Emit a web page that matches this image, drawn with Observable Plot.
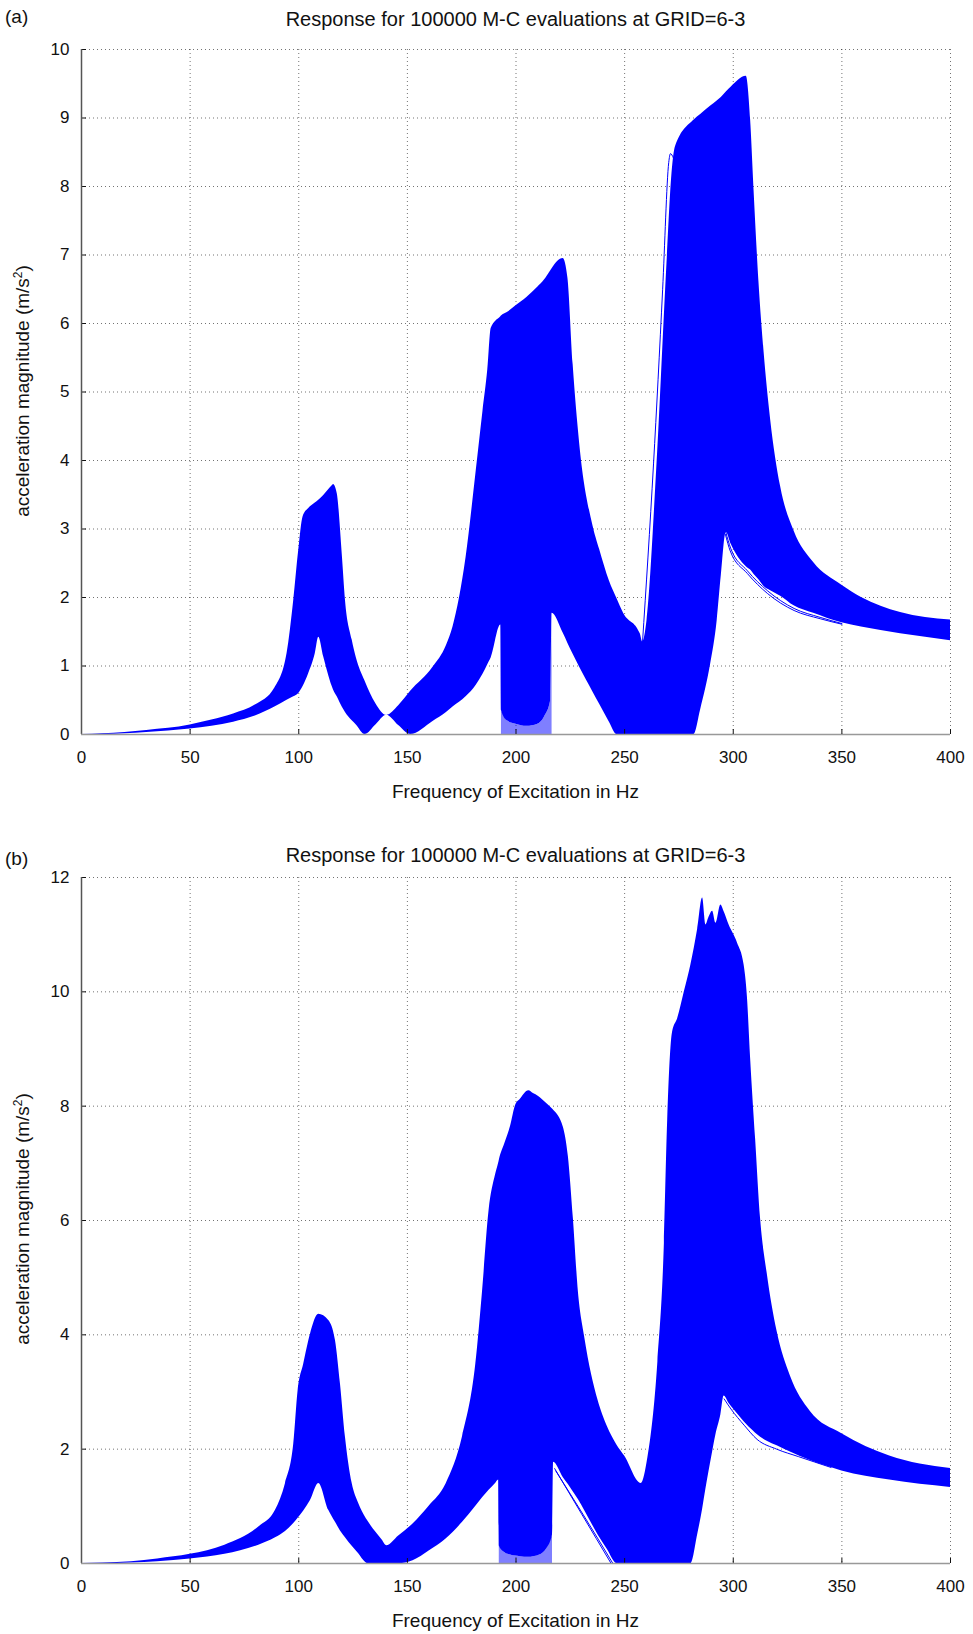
<!DOCTYPE html>
<html><head><meta charset="utf-8">
<script src="https://cdn.jsdelivr.net/npm/d3@7"></script>
<script src="https://cdn.jsdelivr.net/npm/@observablehq/plot@0.6"></script>
<style>
body{margin:0;background:#fff;width:973px;height:1634px;position:relative;overflow:hidden;font-family:"Liberation Sans",Arial,sans-serif;color:#111;}
.lbl{position:absolute;font-size:19px;line-height:22px;}
.title{position:absolute;left:81px;width:869px;text-align:center;font-size:20px;line-height:24px;}
.xl{position:absolute;left:81px;width:869px;text-align:center;font-size:19px;line-height:22px;}
.yl{position:absolute;width:400px;text-align:center;font-size:19px;line-height:22px;transform:rotate(-90deg);}
.yl sup{font-size:12px;line-height:0;}
.panel{position:absolute;left:0;}
</style></head><body>
<div class="lbl" style="left:5px;top:6px">(a)</div>
<div class="title" style="top:7px">Response for 100000 M-C evaluations at GRID=6-3</div>
<div class="panel" id="pa" style="top:30px"></div>
<div class="xl" style="top:781px">Frequency of Excitation in Hz</div>
<div class="yl" style="left:-177px;top:380px">acceleration magnitude (m/s<sup>2</sup>)</div>

<div class="lbl" style="left:5px;top:848px">(b)</div>
<div class="title" style="top:843px">Response for 100000 M-C evaluations at GRID=6-3</div>
<div class="panel" id="pb" style="top:860px"></div>
<div class="xl" style="top:1610px">Frequency of Excitation in Hz</div>
<div class="yl" style="left:-177px;top:1208px">acceleration magnitude (m/s<sup>2</sup>)</div>
<script>
// ---------- shared ticks ----------
const xTicks = [0, 50, 100, 150, 200, 250, 300, 350, 400];
const yTicksA = [0, 1, 2, 3, 4, 5, 6, 7, 8, 9, 10];
const yTicksB = [0, 2, 4, 6, 8, 10, 12];

// ---------- panel (a): envelope of the Monte-Carlo responses ----------
const freqA = [0,10,20,30,40,50,60,70,80,89,94.6,97.7,100,102,104.6,107.6,109.2,111.5,115.4,116,117.7,120,121.5,124.6,126.5,130.5,135.5,140.5,146,151.5,161.8,168,171,177,181.7,184.8,187,188.6,193,193.3,196,200,205,210,213,216,216.6,221.7,223.9,226.3,229.3,235.4,238.5,243,246.5,249.5,257.2,258.3,260.3,264.9,269.5,271.8,273.4,282,285,289.5,292.6,294.5,296.8,299,306,308,309.5,311.8,314.2,317.2,321.8,328,337,350,359,377,400];
const upperA = [0,0.01,0.03,0.06,0.09,0.14,0.21,0.30,0.43,0.68,1.18,1.96,2.69,3.18,3.30,3.38,3.42,3.49,3.63,3.65,3.52,2.64,1.96,1.38,1.12,0.78,0.45,0.28,0.42,0.63,0.98,1.30,1.57,2.58,3.85,4.72,5.32,5.93,6.10,6.11,6.16,6.26,6.38,6.53,6.63,6.77,6.80,6.95,6.66,5.40,4.25,3.05,2.70,2.24,1.98,1.77,1.47,1.35,1.66,3.95,6.88,8.19,8.58,8.97,9.05,9.17,9.25,9.30,9.38,9.45,9.61,8.97,7.99,6.62,5.58,4.60,3.62,2.97,2.51,2.18,2.00,1.78,1.67];
const lowerA = [0,0,0.01,0.03,0.05,0.08,0.12,0.18,0.27,0.40,0.50,0.55,0.60,0.70,0.89,1.18,1.42,1.13,0.70,0.65,0.55,0.40,0.32,0.20,0.14,0,0.14,0.28,0.13,0,0.19,0.32,0.40,0.55,0.72,0.88,1.02,1.12,1.60,0.35,0.2,0.15,0.12,0.15,0.25,0.5,1.77,1.48,1.33,1.17,0.98,0.62,0.44,0.18,0,0,0,0,0,0,0,0,0,0,0.36,1.01,1.66,2.32,2.95,2.78,2.45,2.40,2.34,2.26,2.16,2.10,2.02,1.88,1.77,1.63,1.57,1.47,1.37];
const hatchA = [193.3, 216.6];   // band of curves dipping to zero
// isolated single curves outside the main band
const outA1F = [258.2,263.3,267.5,270.3,271.1,272.4], outA1V = [1.33,3.95,6.5,8.35,8.48,8.42];
const outA3F = [296.6,298.8,306.5,315.7,328,340,350], outA3V = [2.95,2.72,2.39,2.10,1.84,1.71,1.62];
const outA4F = [296.4,298.6,306.5,315.7,328,340,350], outA4V = [2.92,2.68,2.35,2.06,1.81,1.69,1.61];

// ---------- panel (b) ----------
const freqB = [0,10,23,35,50,66,81.6,89.3,93.9,97.7,99.7,102.3,105.4,109.2,113.8,116.9,119.2,121.5,124.6,127.6,130.7,131.5,138.4,140.5,146,152.6,160,167.8,175.4,181.5,184.6,187.6,190.6,192,192.3,195.2,197.5,199.8,202,205.9,208,210.4,214,216.8,217.3,221.8,224.1,226.4,228.7,231.7,237.8,242,246.5,250,257.6,260.7,265.3,268.3,269.8,272.1,274.4,277.5,280.5,283.6,285.9,287.4,288.8,290.5,292,294.3,295.8,298.1,301.9,305,306.5,308,310.3,312.6,315.6,320.2,326.3,335.5,350,372,400];
const upperB = [0,0.01,0.03,0.08,0.16,0.32,0.64,0.93,1.40,2.09,3.02,3.49,4.01,4.36,4.25,3.90,3.14,2.21,1.40,1.05,0.81,0.76,0.41,0.31,0.48,0.69,1.0,1.39,2.22,3.49,4.76,6.17,6.80,7.0,7.05,7.38,7.65,8.01,8.12,8.27,8.22,8.17,8.05,7.95,7.93,7.63,7.12,6.04,4.76,3.94,2.85,2.40,2.07,1.88,1.40,1.85,3.52,5.6,7.73,9.30,9.53,10.0,10.47,11.09,11.64,11.17,11.3,11.41,11.2,11.52,11.40,11.17,10.86,10.47,9.92,8.83,7.42,6.02,5.08,4.06,3.28,2.66,2.27,1.88,1.66];
const lowerB = [0,0,0.01,0.03,0.08,0.16,0.32,0.45,0.56,0.70,0.79,0.92,1.10,1.40,0.93,0.72,0.57,0.45,0.30,0.17,0.02,0,0,0,0,0.05,0.22,0.43,0.72,1.00,1.15,1.28,1.40,1.46,0.30,0.18,0.15,0.13,0.12,0.11,0.12,0.14,0.25,0.5,1.77,1.50,1.38,1.25,1.12,0.92,0.50,0.25,0,0,0,0,0,0,0,0,0,0,0,0.5,0.95,1.3,1.6,1.95,2.25,2.6,2.93,2.80,2.62,2.48,2.42,2.36,2.28,2.21,2.14,2.06,1.95,1.80,1.62,1.46,1.33];
const hatchB = [192.3, 216.8];
const outB1F = [217.8,230,243.8],  outB1V = [1.66,0.88,0];
const outB2F = [218.3,231,244.6],  outB2V = [1.62,0.85,0];
const outB3F = [295.8,299,305,311,320,330,345], outB3V = [2.88,2.70,2.42,2.17,2.00,1.87,1.68];

const BLUE = "#0000ff";

function makePanel({freq, upper, lower, hatch, yTicks, yMax, outliers, height, marginTop, marginBottom}) {
  const rows = freq.map((f, i) => ({f, hi: upper[i], lo: lower[i]}));
  const hatchRows = rows.filter(d => d.f >= hatch[0] && d.f <= hatch[1]);
  const gridStyle = {stroke: "#000", strokeOpacity: 0.55, strokeDasharray: "1,3", strokeWidth: 1};
  return Plot.plot({
    width: 973, height, marginLeft: 81, marginRight: 23, marginTop, marginBottom,
    style: {fontFamily: '"Liberation Sans", Arial, sans-serif', fontSize: "17px", color: "#111", background: "transparent", overflow: "visible"},
    x: {domain: [0, 400]},
    y: {domain: [0, yMax]},
    marks: [
      Plot.gridX(xTicks.slice(1), gridStyle),
      Plot.gridY(yTicks.slice(1), gridStyle),
      Plot.areaY(hatchRows, {x: "f", y1: 0, y2: "lo", fill: BLUE, fillOpacity: 0.5, curve: "monotone-x"}),
      Plot.areaY(rows, {x: "f", y1: "lo", y2: "hi", fill: BLUE, curve: "monotone-x"}),
      ...outliers.map(([fs, vs]) => Plot.line(fs, {x: fs, y: vs, stroke: BLUE, strokeWidth: 1, curve: "monotone-x"})),
      Plot.axisX(xTicks, {tickSize: -5, tickPadding: 21, label: null, fontSize: 17, tickFormat: d => String(d)}),
      Plot.axisY(yTicks, {tickSize: -5, tickPadding: 17, label: null, fontSize: 17, tickFormat: d => String(d)}),
      Plot.ruleX([0], {stroke: "#555", strokeWidth: 1.5}),
      Plot.ruleY([0], {stroke: "#999", strokeWidth: 1.5})
    ]
  });
}

document.getElementById("pa").append(makePanel({
  freq: freqA, upper: upperA, lower: lowerA, hatch: hatchA, yTicks: yTicksA, yMax: 10,
  outliers: [[outA1F, outA1V], [outA3F, outA3V], [outA4F, outA4V]],
  height: 775, marginTop: 19, marginBottom: 71
}));
document.getElementById("pb").append(makePanel({
  freq: freqB, upper: upperB, lower: lowerB, hatch: hatchB, yTicks: yTicksB, yMax: 12,
  outliers: [[outB1F, outB1V], [outB2F, outB2V], [outB3F, outB3V]],
  height: 774, marginTop: 17, marginBottom: 71
}));
</script>
</body></html>
